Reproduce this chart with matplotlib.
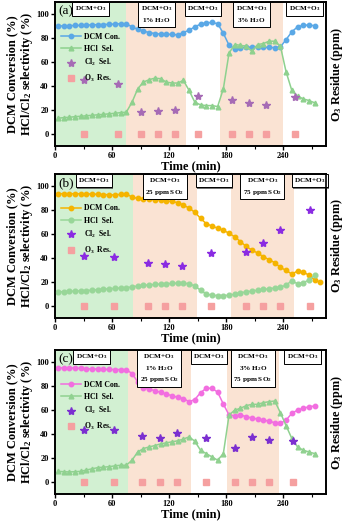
import matplotlib
matplotlib.use("Agg")
import matplotlib.pyplot as plt
import matplotlib.patheffects as pe
from matplotlib.ticker import MultipleLocator

plt.rcParams['font.family'] = ['Liberation Serif', 'DejaVu Serif']
plt.rcParams['font.weight'] = 'bold'
plt.rcParams['mathtext.fontset'] = 'custom'
plt.rcParams['mathtext.rm'] = 'Liberation Serif:bold'
plt.rcParams['mathtext.it'] = 'Liberation Serif:italic:bold'
plt.rcParams['mathtext.bf'] = 'Liberation Serif:bold'

# ---------------- data ----------------
time_46 = [3, 9, 15, 21, 27, 33, 39, 45, 51, 57, 63, 69, 75, 81, 87, 93, 99, 105, 111, 117,
           123, 129, 135, 141, 147, 153, 159, 165, 171, 177, 183, 189, 195, 201, 207, 213, 219,
           225, 231, 237, 243, 249, 255, 261, 267, 273]
time_47 = time_46 + [279]

# panel (a)
dcm_a = [90.0, 90.2, 90.3, 90.5, 90.6, 90.8, 91.0, 91.2, 91.3, 91.5, 91.7, 92.0, 91.8, 89.4,
         87.2, 85.8, 84.6, 83.8, 83.3, 83.2, 83.0, 82.7, 84.6, 86.6, 89.4, 91.6, 92.7, 93.0,
         92.0, 84.0, 74.0, 71.2, 72.0, 72.3, 72.5, 72.4, 72.3, 72.2, 72.0, 72.6, 78.8, 85.2,
         89.4, 90.5, 91.0, 90.2]
hcl_a = [13.2, 13.6, 14.0, 14.4, 14.8, 15.2, 15.6, 16.0, 16.4, 16.8, 17.3, 17.8, 18.2, 26.5,
         37.7, 43.3, 45.3, 46.6, 46.1, 43.3, 42.5, 42.5, 44.7, 36.3, 26.5, 24.3, 23.7, 23.7,
         22.9, 37.7, 67.6, 74.6, 74.0, 73.2, 69.0, 74.6, 75.4, 77.4, 77.4, 73.2, 51.7, 36.3,
         31.6, 29.3, 27.9, 26.0]
pt_time_a = [30, 66, 90, 108, 126, 150, 186, 204, 222, 252]
cl2_a = [45, 42, 18, 19, 20, 31.5, 28, 26, 24.5, 31]
o3_a = [0, 0, 0, 0, 0, 0, 0, 0, 0, 0]
bounds_a = [0, 75, 138, 173.5, 240, 285]
labels_a = ['DCM+O$_3$', 'DCM+O$_3$\n1% H$_2$O', 'DCM+O$_3$', 'DCM+O$_3$\n3% H$_2$O', 'DCM+O$_3$']

# panel (b)
dcm_b = [93.5, 93.5, 93.5, 93.5, 93.4, 93.3, 93.2, 93.0, 92.8, 92.6, 92.4, 93.0, 93.3, 90.7,
         89.5, 89.0, 88.7, 88.4, 88.2, 87.6, 87.0, 86.0, 84.0, 81.5, 78.0, 73.0, 68.5, 66.5,
         64.7, 63.0, 60.5, 57.5, 53.5, 49.5, 46.5, 44.0, 41.0, 38.5, 36.0, 32.0, 29.5, 26.5,
         29.0, 28.2, 25.5, 21.5, 19.7]
hcl_b = [11.5, 11.8, 12.0, 12.2, 12.5, 12.7, 13.0, 13.4, 13.9, 14.2, 14.5, 14.8, 15.0, 15.8,
         16.5, 17.0, 17.4, 17.8, 18.1, 18.4, 18.6, 18.9, 18.8, 18.4, 16.5, 13.0, 9.8, 8.8,
         8.5, 8.5, 8.8, 9.7, 10.8, 11.6, 12.3, 13.0, 13.6, 14.2, 14.8, 15.6, 17.2, 21.0,
         18.3, 19.3, 21.5, 25.5]
pt_time_b = [31, 62, 98, 116, 134, 164, 201, 219, 237, 268]
cl2_b = [41.7, 40.8, 35.8, 34.6, 33.5, 44.2, 44.5, 52.7, 63.0, 79.7]
o3_b = [0, 0, 0, 0, 0, 0, 0, 0, 0, 0]
bounds_b = [0, 81.5, 149.5, 185, 251, 285]
labels_b = ['DCM+O$_3$', 'DCM+O$_3$\n25 ppm SO$_2$', 'DCM+O$_3$', 'DCM+O$_3$\n75 ppm SO$_2$', 'DCM+O$_3$']

# panel (c)
dcm_c = [95.2, 95.2, 95.2, 95.0, 94.8, 94.5, 94.3, 94.2, 94.0, 93.9, 93.8, 93.8, 93.7, 90.5,
         83.5, 78.8, 77.4, 76.2, 74.8, 73.3, 72.0, 70.6, 69.6, 67.0, 68.8, 74.5, 78.2, 78.2,
         75.0, 65.0, 55.9, 55.0, 55.9, 54.5, 53.4, 52.5, 51.7, 50.8, 49.4, 48.9, 51.7, 57.3,
         60.0, 61.5, 62.8, 63.4]
hcl_c = [8.9, 8.6, 8.4, 8.6, 8.9, 10.0, 11.0, 12.0, 12.4, 12.8, 13.5, 14.0, 14.0, 18.2,
         25.1, 27.9, 29.3, 30.4, 31.8, 32.7, 33.5, 34.4, 35.8, 37.7, 34.0, 26.5, 23.7, 21.0,
         18.2, 23.7, 55.9, 60.0, 61.5, 63.7, 64.8, 64.8, 66.2, 67.0, 67.6, 57.8, 46.9, 36.3,
         29.3, 26.5, 25.1, 23.7]
pt_time_c = [31, 62, 91.5, 110, 128, 158.5, 189, 207, 225, 250]
cl2_c = [43.3, 43.3, 38.0, 36.6, 40.5, 36.3, 28.5, 37.7, 35.0, 33.8]
o3_c = [0, 0, 0, 0, 0, 0, 0, 0, 0, 0]
bounds_c = [0, 76.5, 142.5, 181, 235, 285]
labels_c = ['DCM+O$_3$', 'DCM+O$_3$\n1% H$_2$O\n25 ppm SO$_2$', 'DCM+O$_3$',
            'DCM+O$_3$\n3% H$_2$O\n75 ppm SO$_2$', 'DCM+O$_3$']

series_names = ['DCM Con.', 'HCl  Sel.', 'Cl$_2$  Sel.', 'O$_3$  Res.']
xticks = [0, 60, 120, 180, 240]
yticks = [0, 20, 40, 60, 80, 100]

GREEN = '#d2f0d2'
PEACH = '#fae3d3'
region_colors = [GREEN, PEACH, 'white', PEACH, 'white']
O3_COLOR = '#f5a0a0'

panels = [
    dict(rect=[0.158, 0.723, 0.779, 0.273], tag='(a)', t1=time_46, dcm=dcm_a, t2=time_46, hcl=hcl_a,
         pt=pt_time_a, cl2=cl2_a, o3=o3_a, bounds=bounds_a, labels=labels_a,
         c_dcm='#5aa8e6', m_dcm='o', c_hcl='#8ed18e', m_hcl='^', c_cl2='#a66bb5'),
    dict(rect=[0.158, 0.397, 0.779, 0.273], tag='(b)', t1=time_47, dcm=dcm_b, t2=time_46, hcl=hcl_b,
         pt=pt_time_b, cl2=cl2_b, o3=o3_b, bounds=bounds_b, labels=labels_b,
         c_dcm='#f5b400', m_dcm='o', c_hcl='#98d698', m_hcl='o', c_cl2='#8a2be2'),
    dict(rect=[0.158, 0.0626, 0.779, 0.273], tag='(c)', t1=time_46, dcm=dcm_c, t2=time_46, hcl=hcl_c,
         pt=pt_time_c, cl2=cl2_c, o3=o3_c, bounds=bounds_c, labels=labels_c,
         c_dcm='#f26ee0', m_dcm='o', c_hcl='#90d190', m_hcl='^', c_cl2='#7b2fd0'),
]

fig = plt.figure(figsize=(3.48, 5.27), dpi=100)

for p in panels:
    ax = fig.add_axes(p['rect'])
    ax2 = ax.twinx()
    b = p['bounds']
    for i, col in enumerate(region_colors):
        if col != 'white':
            ax.axvspan(b[i], b[i + 1], color=col, lw=0, zorder=0)
    l1, = ax.plot(p['t1'], p['dcm'], color=p['c_dcm'], marker=p['m_dcm'], ms=3.2, lw=1.1,
                  label=series_names[0], zorder=3)
    l2, = ax.plot(p['t2'], p['hcl'], color=p['c_hcl'], marker=p['m_hcl'], ms=3.4, lw=1.1,
                  label=series_names[1], zorder=3)
    l3, = ax.plot(p['pt'], p['cl2'], ls='none', marker='*', ms=6, color=p['c_cl2'],
                  label=series_names[2], zorder=4)
    l4, = ax2.plot(p['pt'], p['o3'], ls='none', marker='s', ms=3.8, color=O3_COLOR,
                   label=series_names[3], zorder=4)

    ax.set_xlim(0, 285)
    ax.set_ylim(-10, 110)
    ax2.set_ylim(-10, 110)
    ax2.set_yticks([])
    ax.set_xticks(xticks)
    ax.set_yticks(yticks)
    ax.xaxis.set_minor_locator(MultipleLocator(30))
    ax.tick_params(axis='both', which='major', direction='out', length=3, width=1,
                   labelsize=6, pad=1.5)
    ax.tick_params(axis='x', which='minor', direction='out', length=1.8, width=0.8)
    for lab in ax.get_xticklabels() + ax.get_yticklabels():
        lab.set_fontweight('bold')
    for sp in list(ax.spines.values()) + list(ax2.spines.values()):
        sp.set_linewidth(1.2)

    ax.set_xlabel('Time (min)', fontsize=9, fontweight='bold', labelpad=0)
    ax.set_ylabel('DCM Conversion (%)\nHCl/Cl$_2$ selectivity (%)', fontsize=9,
                  fontweight='bold', linespacing=1.0, labelpad=1)
    ax2.set_ylabel('O$_3$ Residue (ppm)', fontsize=8.8, fontweight='bold', labelpad=2)

    ax.text(0.012, 0.975, p['tag'], transform=ax.transAxes, fontsize=9.5, fontweight='normal',
            va='top', ha='left', zorder=6)

    for i, lab in enumerate(p['labels']):
        xc = 0.5 * (b[i] + b[i + 1])
        t = ax.text(xc, 0.985, lab, transform=ax.get_xaxis_transform(), ha='center', va='top',
                    fontsize=5.2, fontweight='bold', linespacing=1.45, zorder=7,
                    bbox=dict(boxstyle='square,pad=0.35', fc='white', ec='black', lw=0.7))
        t.get_bbox_patch().set_path_effects([pe.SimplePatchShadow(offset=(0.8, -0.8),
                                                                  shadow_rgbFace='0.3', alpha=0.8),
                                             pe.Normal()])

    ax.legend(handles=[l1, l2, l3, l4], loc='upper left', bbox_to_anchor=(0.005, 0.82),
              frameon=False, prop={'size': 5.6, 'weight': 'bold'}, handlelength=2.6,
              handletextpad=0.3, labelspacing=0.55, borderaxespad=0.2)

fig.savefig('out.png', dpi=100)
